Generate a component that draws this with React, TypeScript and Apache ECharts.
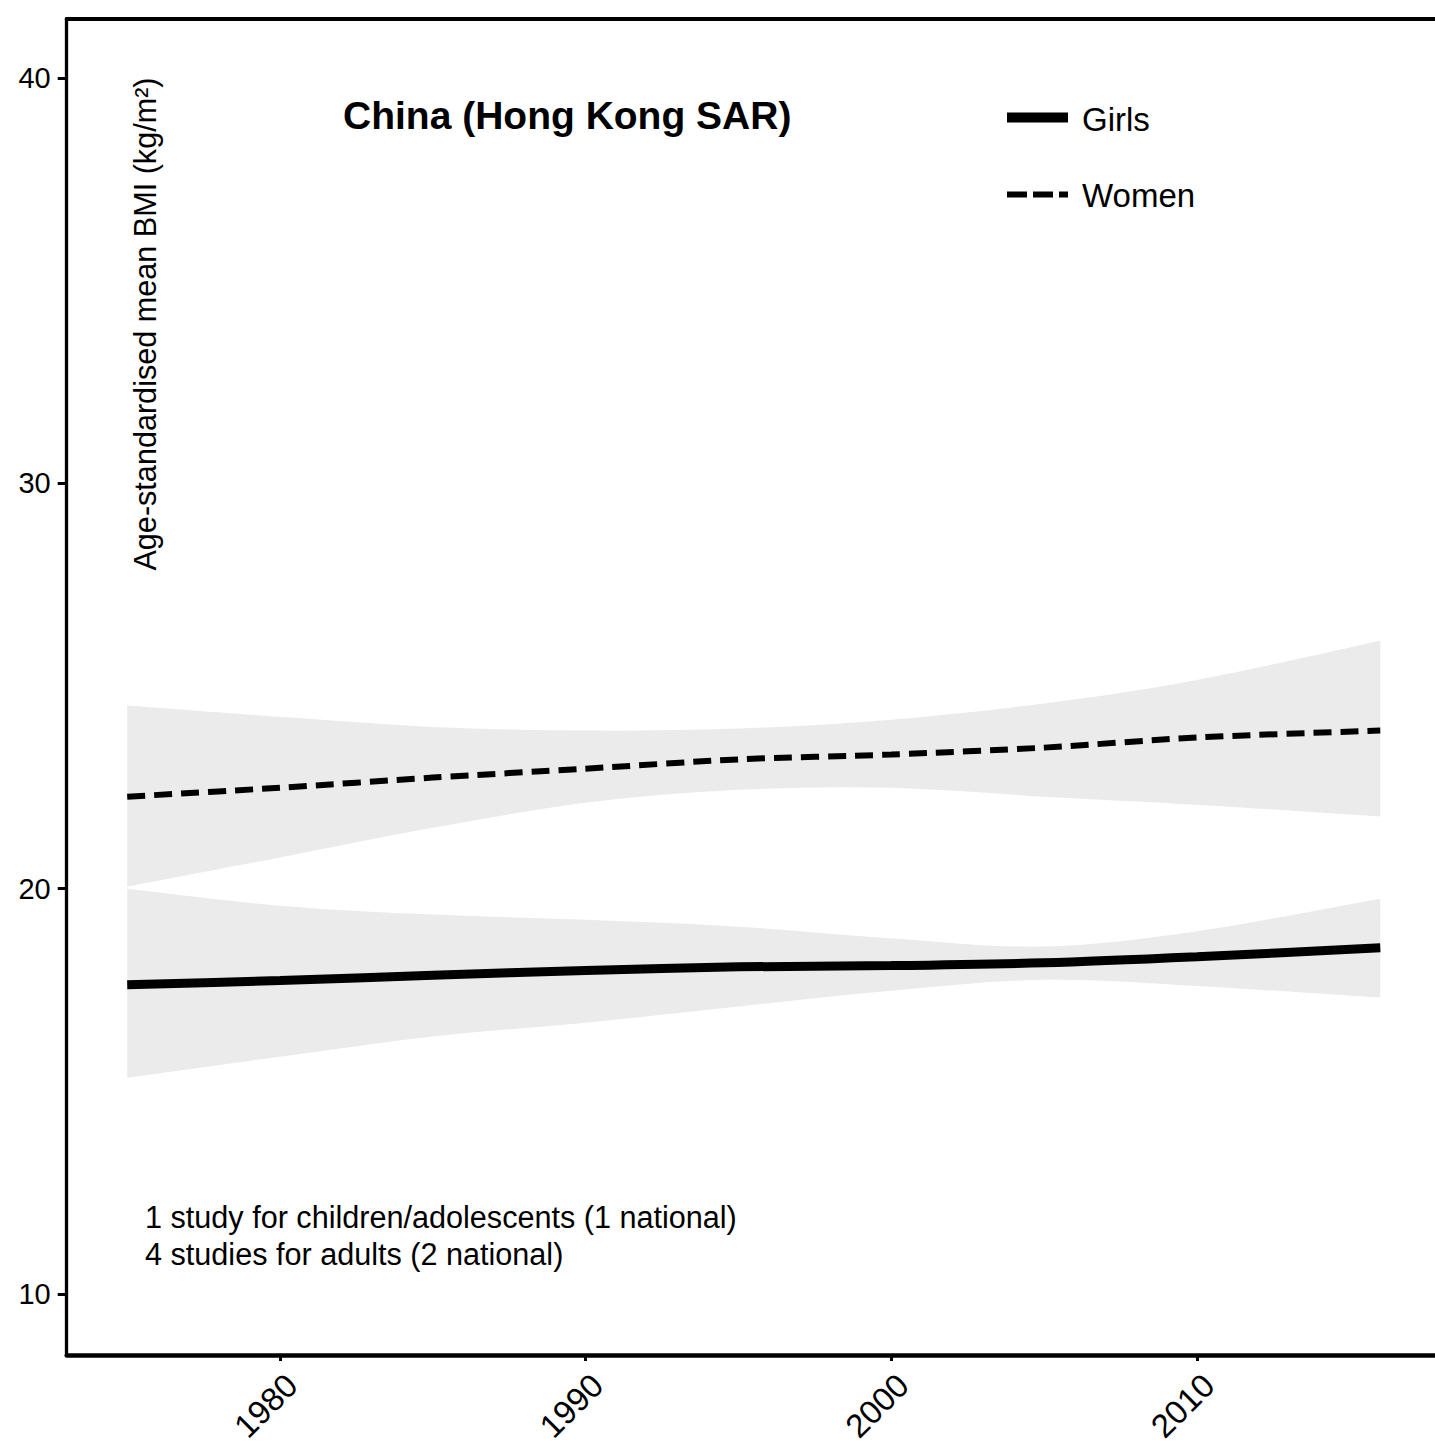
import React, { useEffect, useRef } from 'react';
import * as echarts from 'echarts';

const years = [1975, 1980, 1985, 1990, 1995, 2000, 2005, 2010, 2016];
const girlsMean = [17.63, 17.73, 17.86, 17.98, 18.07, 18.1, 18.17, 18.32, 18.54];
const girlsLower = [15.33, 15.85, 16.35, 16.69, 17.09, 17.48, 17.75, 17.6, 17.31];
const girlsUpper = [20.0, 19.58, 19.36, 19.23, 19.06, 18.77, 18.57, 18.95, 19.75];
const womenMean = [22.27, 22.49, 22.74, 22.96, 23.19, 23.31, 23.48, 23.73, 23.9];
const womenLower = [20.05, 20.77, 21.5, 22.12, 22.44, 22.49, 22.27, 22.07, 21.78];
const womenUpper = [24.52, 24.24, 23.99, 23.9, 23.95, 24.17, 24.57, 25.15, 26.12];

const xTicks = [1980, 1990, 2000, 2010];
const yTicks = [10, 20, 30, 40];

const titleText = 'China (Hong Kong SAR)';
const yAxisName = 'Age-standardised mean BMI (kg/m²)';
const legendNames = ['Girls', 'Women'];
const noteLines = [
  '1 study for children/adolescents (1 national)',
  '4 studies for adults (2 national)',
];

const FONT = "'Liberation Sans', Arial, Helvetica, sans-serif";
const BAND = '#EBEBEB';

function curveSegs(pts: number[][], t = 1 / 6) {
  let s = '';
  for (let i = 0; i < pts.length - 1; i++) {
    const p0 = pts[i - 1] || pts[i];
    const p1 = pts[i];
    const p2 = pts[i + 1];
    const p3 = pts[i + 2] || p2;
    const c1 = [p1[0] + (p2[0] - p0[0]) * t, p1[1] + (p2[1] - p0[1]) * t];
    const c2 = [p2[0] - (p3[0] - p1[0]) * t, p2[1] - (p3[1] - p1[1]) * t];
    s += ` C${c1[0]},${c1[1]} ${c2[0]},${c2[1]} ${p2[0]},${p2[1]}`;
  }
  return s;
}

export default function App() {
  const ref = useRef<HTMLDivElement>(null);

  useEffect(() => {
    if (!ref.current) return;
    const chart = echarts.init(ref.current, undefined, { renderer: 'svg' });

    const pairs = (vals: number[]) => years.map((y, i) => [y, vals[i]]);

    const band = (up: number[], lo: number[]) => ({
      type: 'custom',
      data: [[years[0], lo[0]]],
      encode: { x: 0, y: 1 },
      silent: true,
      z: 1,
      renderItem: (params: any, api: any) => {
        const u = years.map((y, i) => api.coord([y, up[i]]));
        const l = years.map((y, i) => api.coord([y, lo[i]])).reverse();
        const d =
          `M${u[0][0]},${u[0][1]}` +
          curveSegs(u) +
          ` L${l[0][0]},${l[0][1]}` +
          curveSegs(l) +
          ' Z';
        return {
          type: 'path',
          shape: { pathData: d },
          style: { fill: BAND, stroke: null },
        };
      },
    });

    const option: any = {
      animation: false,
      backgroundColor: '#ffffff',
      grid: { left: 66.7, right: 0, top: 18.7, bottom: 94 },
      xAxis: [
        {
          type: 'value',
          min: 1973.02,
          max: 2017.79,
          axisLine: { show: true, lineStyle: { color: '#000', width: 4.5 } },
          axisTick: {
            show: true,
            length: 6,
            lineStyle: { color: '#000', width: 3 },
            customValues: xTicks,
          },
          axisLabel: {
            show: true,
            customValues: xTicks,
            rotate: 45,
            margin: 13,
            verticalAlign: 'top',
            fontSize: 33,
            fontFamily: FONT,
            color: '#000',
            formatter: (v: number) => String(v),
          },
          splitLine: { show: false },
        },
        {
          type: 'value',
          position: 'top',
          min: 1973.02,
          max: 2017.79,
          axisLine: { show: true, onZero: false, lineStyle: { color: '#000', width: 4 } },
          axisTick: { show: false },
          axisLabel: { show: false },
          splitLine: { show: false },
        },
      ],
      yAxis: {
        type: 'value',
        min: 8.49,
        max: 41.47,
        axisLine: { show: true, lineStyle: { color: '#000', width: 3.3 } },
        axisTick: {
          show: true,
          length: 9,
          lineStyle: { color: '#000', width: 3 },
          customValues: yTicks,
        },
        axisLabel: {
          show: true,
          customValues: yTicks,
          margin: 16,
          fontSize: 29,
          fontFamily: FONT,
          color: '#000',
        },
        splitLine: { show: false },
      },
      series: [
        band(womenUpper, womenLower),
        band(girlsUpper, girlsLower),
        {
          name: legendNames[0],
          type: 'line',
          data: pairs(girlsMean),
          smooth: 0.3,
          symbol: 'none',
          lineStyle: { color: '#000', width: 9, cap: 'butt' },
          z: 3,
        },
        {
          name: legendNames[1],
          type: 'line',
          data: pairs(womenMean),
          smooth: 0.3,
          symbol: 'none',
          lineStyle: { color: '#000', width: 6, type: [18, 9], cap: 'butt' },
          z: 3,
        },
      ],
      graphic: [
        {
          type: 'text',
          x: 343,
          y: 115,
          style: {
            text: titleText,
            fontSize: 39,
            fontWeight: 'bold',
            fontFamily: FONT,
            fill: '#000',
            align: 'left',
            verticalAlign: 'middle',
          },
        },
        {
          type: 'text',
          x: 145,
          y: 324,
          rotation: Math.PI / 2,
          style: {
            text: yAxisName,
            fontSize: 30.6,
            fontFamily: FONT,
            fill: '#000',
            align: 'center',
            verticalAlign: 'middle',
          },
        },
        {
          type: 'line',
          shape: { x1: 1007, y1: 117.5, x2: 1068, y2: 117.5 },
          style: { stroke: '#000', lineWidth: 10 },
        },
        {
          type: 'line',
          shape: { x1: 1007, y1: 194.5, x2: 1068, y2: 194.5 },
          style: { stroke: '#000', lineWidth: 6, lineDash: [20, 6] },
        },
        {
          type: 'text',
          x: 1082,
          y: 119.5,
          style: {
            text: legendNames[0],
            fontSize: 33,
            fontFamily: FONT,
            fill: '#000',
            align: 'left',
            verticalAlign: 'middle',
          },
        },
        {
          type: 'text',
          x: 1082,
          y: 195.5,
          style: {
            text: legendNames[1],
            fontSize: 33,
            fontFamily: FONT,
            fill: '#000',
            align: 'left',
            verticalAlign: 'middle',
          },
        },
        ...noteLines.map((t, i) => ({
          type: 'text',
          x: 145,
          y: 1216.5 + i * 37.5,
          style: {
            text: t,
            fontSize: 30.6,
            fontFamily: FONT,
            fill: '#000',
            align: 'left',
            verticalAlign: 'middle',
          },
        })),
      ],
    };

    chart.setOption(option);
    return () => chart.dispose();
  }, []);

  return (
    <div
      ref={ref}
      style={{ position: 'fixed', left: 0, top: 0, width: 1435, height: 1449, background: '#fff' }}
    />
  );
}
